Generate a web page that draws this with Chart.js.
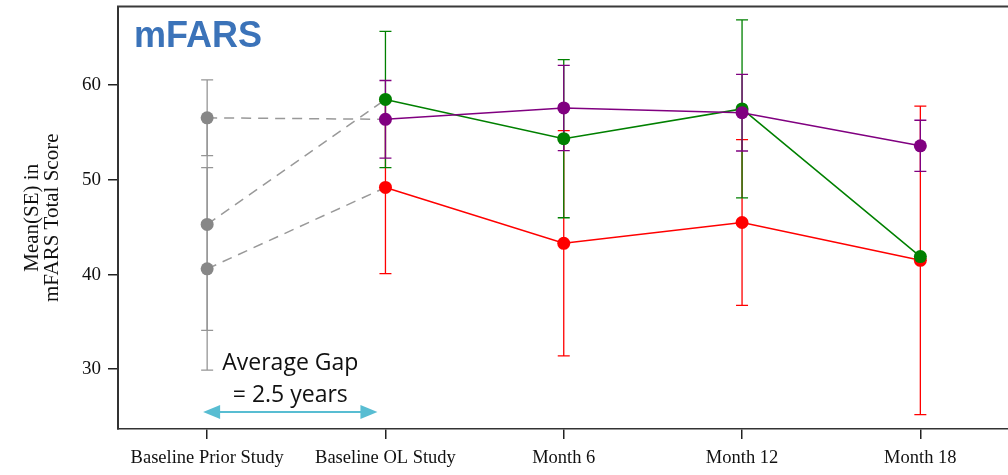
<!DOCTYPE html>
<html>
<head>
<meta charset="utf-8">
<script src="https://cdn.jsdelivr.net/npm/chart.js@4.4.1/dist/chart.umd.min.js"></script>
<style>
  html, body { margin: 0; padding: 0; overflow: hidden; background: #fff; }
  #wrap { width: 1016px; height: 475px; position: relative; }
</style>
</head>
<body>
<div id="wrap"><canvas id="c"></canvas></div>
<script>
// Visit labels along the x axis
const categories = ['Baseline Prior Study', 'Baseline OL Study', 'Month 6', 'Month 12', 'Month 18'];
const yTicks = [30, 40, 50, 60];

// Mean mFARS and standard error per visit, one pair of arrays per group
const purpleMean = [null, 56.4, 57.6, 57.1, 53.6];
const purpleSE   = [null, 4.1, 4.5, 4.05, 2.7];
const greenMean  = [null, 58.5, 54.35, 57.5, 41.9];
const greenSE    = [null, 7.2, 8.35, 9.4, null];
const redMean    = [null, 49.2, 43.3, 45.5, 41.5];
const redSE      = [null, 9.1, 11.9, 8.75, 16.3];

// Prior-study baseline of the same groups (purple, green, red)
const priorMean = [56.56, 45.3, 40.6];
const priorSE   = [4.0, 11.2, 10.7];

const GRAY = '#878787';
const groups = [
  { mean: purpleMean, se: purpleSE, color: '#800080' },
  { mean: greenMean,  se: greenSE,  color: '#008000' },
  { mean: redMean,    se: redSE,    color: '#ff0000' }
];

const datasets = [];
// solid group lines, purple on top
groups.forEach(g => {
  datasets.push({
    data: g.mean,
    borderColor: g.color,
    backgroundColor: g.color,
    borderWidth: 1.5,
    pointRadius: 6.5,
    pointBorderWidth: 0,
    pointHoverRadius: 6.5,
    spanGaps: false,
    errors: g.se,
    barColor: g.color
  });
});
// dashed links from the prior-study baseline to the open-label baseline
groups.forEach((g, k) => {
  datasets.push({
    data: [priorMean[k], g.mean[1], null, null, null],
    borderColor: '#999999',
    backgroundColor: GRAY,
    borderWidth: 1.5,
    borderDash: [10, 7],
    pointRadius: [6.5, 0, 0, 0, 0],
    pointBorderWidth: 0,
    pointHoverRadius: 0,
    errors: [priorSE[k], null, null, null, null],
    barColor: '#959595'
  });
});

// vertical SE bars with caps, drawn beneath the markers
const errorBars = {
  id: 'errorBars',
  beforeDatasetsDraw(chart) {
    const { ctx, scales: { x, y } } = chart;
    const n = chart.data.datasets.length;
    ctx.save();
    for (let d = n - 1; d >= 0; d--) {
      const ds = chart.data.datasets[d];
      if (!ds.errors) continue;
      ctx.strokeStyle = ds.barColor;
      ctx.lineWidth = 1.3;
      ds.data.forEach((v, i) => {
        const e = ds.errors[i];
        if (v == null || e == null) return;
        const px = x.getPixelForValue(i);
        const yt = y.getPixelForValue(v + e);
        const yb = y.getPixelForValue(v - e);
        ctx.beginPath();
        ctx.moveTo(px, yt); ctx.lineTo(px, yb);
        ctx.moveTo(px - 6, yt); ctx.lineTo(px + 6, yt);
        ctx.moveTo(px - 6, yb); ctx.lineTo(px + 6, yb);
        ctx.stroke();
      });
    }
    ctx.restore();
  }
};

// frame top line, panel title and the gap annotation
const decorations = {
  id: 'decorations',
  afterDraw(chart) {
    const { ctx, chartArea: a, scales: { x } } = chart;
    ctx.save();
    ctx.strokeStyle = '#3a3a3a';
    ctx.lineWidth = 2;
    ctx.beginPath();
    ctx.moveTo(a.left - 1, a.top);
    ctx.lineTo(chart.width, a.top);
    ctx.stroke();

    ctx.fillStyle = '#3b73b9';
    ctx.font = 'bold 36px "Liberation Sans", Arial, sans-serif';
    ctx.textAlign = 'left';
    ctx.textBaseline = 'alphabetic';
    ctx.fillText('mFARS', 134, 47);

    const x0 = x.getPixelForValue(0) - 4;
    const x1 = x.getPixelForValue(1) - 8;
    const ay = a.bottom - 17;
    ctx.strokeStyle = '#58bdd2';
    ctx.fillStyle = '#58bdd2';
    ctx.lineWidth = 2;
    ctx.beginPath();
    ctx.moveTo(x0 + 12, ay); ctx.lineTo(x1 - 12, ay);
    ctx.stroke();
    ctx.beginPath();
    ctx.moveTo(x0, ay); ctx.lineTo(x0 + 17, ay - 7); ctx.lineTo(x0 + 17, ay + 7); ctx.closePath();
    ctx.fill();
    ctx.beginPath();
    ctx.moveTo(x1, ay); ctx.lineTo(x1 - 17, ay - 7); ctx.lineTo(x1 - 17, ay + 7); ctx.closePath();
    ctx.fill();

    const cx = (x0 + x1) / 2;
    ctx.fillStyle = '#111';
    ctx.font = '23px "Open Sans", sans-serif';
    ctx.textAlign = 'center';
    ctx.textBaseline = 'middle';
    ctx.fillText('Average Gap', cx, ay - 49);
    ctx.fillText('= 2.5 years', cx, ay - 17);
    ctx.restore();
  }
};

new Chart(document.getElementById('c'), {
  type: 'line',
  data: { labels: categories, datasets },
  plugins: [errorBars, decorations],
  options: {
    responsive: true,
    maintainAspectRatio: false,
    animation: false,
    events: [],
    layout: { padding: { top: 5, right: 3, left: 0, bottom: 0 } },
    plugins: { legend: { display: false }, tooltip: { enabled: false } },
    scales: {
      x: {
        type: 'category',
        offset: true,
        grid: { display: true, drawOnChartArea: false, drawTicks: true, tickLength: 10, color: '#222', lineWidth: 1.5 },
        border: { display: true, color: '#333', width: 1.5 },
        ticks: {
          color: '#111',
          padding: 8,
          maxRotation: 0,
          autoSkip: false,
          font: { family: '"Liberation Serif", "Times New Roman", serif', size: 18.5 }
        },
        afterFit(s) { s.height = 46; s.paddingLeft = 0; s.paddingRight = 0; }
      },
      y: {
        min: 23.68,
        max: 68.32,
        grid: { display: true, drawOnChartArea: false, drawTicks: true, tickLength: 10, color: '#222', lineWidth: 1.5 },
        border: { display: true, color: '#333', width: 2 },
        ticks: {
          color: '#111',
          padding: 7,
          font: { family: '"Liberation Serif", "Times New Roman", serif', size: 19 }
        },
        afterBuildTicks(s) { s.ticks = yTicks.map(v => ({ value: v })); },
        title: {
          display: true,
          text: ['Mean(SE) in', 'mFARS Total Score'],
          color: '#111',
          padding: { top: 23, bottom: 0 },
          font: { family: '"Liberation Serif", "Times New Roman", serif', size: 21, lineHeight: 0.95 }
        },
        afterFit(s) { s.width = 118; s.paddingTop = 0; s.paddingBottom = 0; }
      }
    }
  }
});
</script>
</body>
</html>
